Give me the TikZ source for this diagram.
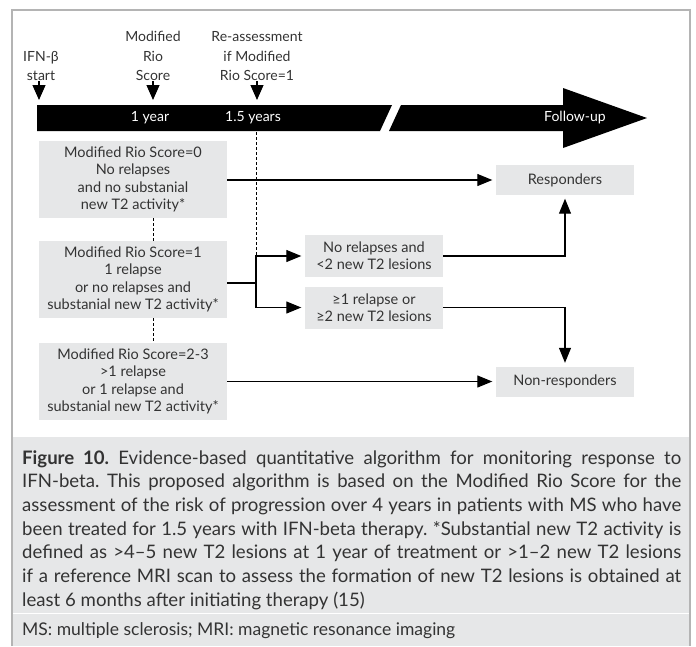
\documentclass[tikz,border=0pt]{standalone}
\usepackage{fontspec}
\setmainfont{Lato}
\usetikzlibrary{arrows.meta,positioning}
\definecolor{boxgray}{HTML}{E6E7E8}
\definecolor{framegray}{HTML}{B4B4B4}
\definecolor{ink}{HTML}{333333}
\tikzset{
  rio/.style={fill=boxgray, text=ink, align=center, inner sep=0pt,
    minimum width=188pt, minimum height=77pt, font=\fontsize{14.5}{17.3}\selectfont},
  result/.style={fill=boxgray, text=ink, align=center, inner sep=0pt,
    minimum width=138pt, minimum height=42pt, font=\fontsize{14.5}{17.3}\selectfont},
  outcome/.style={result, minimum height=30pt},
  toplabel/.style={text=ink, align=center, inner sep=0pt, font=\fontsize{14}{19.5}\selectfont},
  barlabel/.style={text=white, inner sep=0pt, font=\fontsize{14}{16}\selectfont},
  tick/.style={line width=1.2pt, -{Triangle[length=15pt,width=13pt]}},
  arrow/.style={line width=1.1pt, -{Triangle[length=15pt,width=12pt]}, shorten >=3.5pt},
  link/.style={line width=1.1pt},
  dashline/.style={line width=1pt, dash pattern=on 3pt off 2pt},
}
\begin{document}
\frenchspacing
\begin{tikzpicture}[x=1pt,y=-1pt]
\useasboundingbox (0,0) rectangle (696,646);

% frame and caption panel
\fill[boxgray] (13,437) rectangle (690,646);
\draw[white, line width=1pt] (13,613) -- (690,613);
\draw[framegray, line width=1.5pt] (12,646) -- (12,10) -- (690,10) -- (690,646);

% time line with a break
\fill (37,105) -- (392,105) -- (380,131) -- (37,131) -- cycle;
\fill (401,105) -- (563,105) -- (563,88) -- (647,118) -- (563,148) -- (563,131) -- (389,131) -- cycle;
\node[barlabel] (year1) at (150,118) {1 year};
\node[barlabel] (year15) at (253,118) {1.5 years};
\node[barlabel] (fup) at (575,118) {Follow-up};

% time points
\coordinate (t0) at (39,100);
\coordinate (t1) at (153,100);
\coordinate (t2) at (257,100);
\coordinate (barbot) at (256,132);
\node[toplabel, anchor=south] (lstart) at (41,81) {IFN-β\\start};
\node[toplabel, anchor=south] (lrio) at (153,81) {Modified\\Rio\\Score};
\node[toplabel, anchor=south] (lreass) at (257,81) {Re-assessment\\if Modified\\Rio Score=1};
\draw[tick] (t0 |- lstart.south) -- (t0);
\draw[tick] (t1 |- lrio.south) -- (t1);
\draw[tick] (t2 |- lreass.south) -- (t2);

% score boxes
\node[rio] (rio0) at (133,179.5) {Modified Rio Score=0\\No relapses\\and no substanial\\new T2 activity*};
\node[rio] (rio1) at (133,279.5) {Modified Rio Score=1\\1 relapse\\or no relapses and\\substanial new T2 activity*};
\node[rio] (rio23) at (133,381.5) {Modified Rio Score=2-3\\>1 relapse\\or 1 relapse and\\substanial new T2 activity*};
\draw[dashline] (rio0.south -| t1) -- (rio1.north -| t1);
\draw[dashline] (rio1.south -| t1) -- (rio23.north -| t1);

% re-assessment and outcomes
\node[result] (stable) at (374,256) {No relapses and\\<2 new T2 lesions};
\node[result] (active) at (374,307.5) {≥1 relapse or\\≥2 new T2 lesions};
\node[outcome] (resp) at (565,180) {Responders};
\node[outcome] (nonresp) at (565,381.5) {Non-responders};
\coordinate (split) at (256,283);

\draw[dashline] (barbot) -- (barbot |- stable.west);
\draw[link] (rio1.east |- split) -- (split);
\draw[arrow] (split) |- (stable.west);
\draw[arrow] (split) |- (active.west);
\draw[arrow] (rio0.east |- resp.west) -- (resp.west);
\draw[arrow] (rio23.east |- nonresp.west) -- (nonresp.west);
\draw[arrow] (stable.east) -| (resp.south);
\draw[arrow] (active.east) -| (nonresp.north);

% caption
\node[anchor=north west, inner sep=0pt, text width=659pt, align=justify, text=ink,
  font=\fontsize{18.6}{23.7}\selectfont] (caption) at (22,450)
  {\textbf{Figure 10.} Evidence-based quantitative algorithm for monitoring response to\linebreak
  IFN-beta. This proposed algorithm is based on the Modified Rio Score for the\linebreak
  assessment of the risk of progression over 4 years in patients with MS who have\linebreak
  been treated for 1.5 years with IFN-beta therapy. *Substantial new T2 activity is\linebreak
  defined as >4--5 new T2 lesions at 1 year of treatment or >1--2 new T2 lesions\linebreak
  if a reference MRI scan to assess the formation of new T2 lesions is obtained at\linebreak
  least 6 months after initiating therapy (15)};
\node[anchor=west, inner sep=0pt, text=ink, font=\fontsize{17.5}{18}\selectfont] (abbr) at (22,631)
  {MS: multiple sclerosis; MRI: magnetic resonance imaging};
\end{tikzpicture}
\end{document}
